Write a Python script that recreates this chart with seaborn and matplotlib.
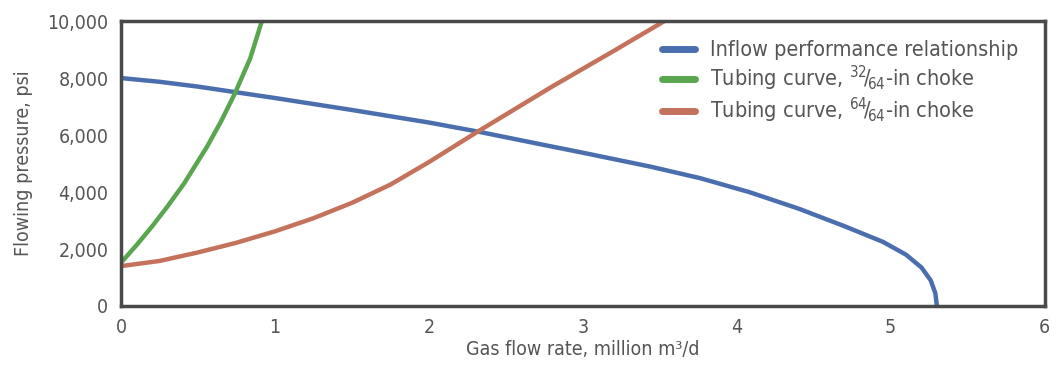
import seaborn as sns
import matplotlib.pyplot as plt
import pandas as pd

# values
ipr_q = [0, 0.25, 0.5, 0.75, 1.0, 1.5, 2.0, 2.32, 2.75, 3.0, 3.44, 3.76, 4.08,
         4.4, 4.7, 4.95, 5.1, 5.2, 5.26, 5.29, 5.3]
ipr_p = [8000, 7870, 7700, 7500, 7300, 6880, 6440, 6120, 5650, 5380, 4890, 4490, 4000,
         3420, 2800, 2250, 1800, 1350, 900, 450, 0]

small_q = [0, 0.1, 0.2, 0.3, 0.41, 0.56, 0.65, 0.74, 0.84, 0.915]
small_p = [1520, 2130, 2780, 3480, 4300, 5600, 6480, 7460, 8700, 10000]

big_q = [0, 0.25, 0.5, 0.75, 1.0, 1.25, 1.5, 1.75, 2.0, 2.32, 2.8, 3.2, 3.53]
big_p = [1400, 1580, 1880, 2220, 2620, 3080, 3620, 4260, 5050, 6130, 7700, 8950, 10000]

labels = ['Inflow performance relationship',
          r'Tubing curve, $^{32}\!/\!_{64}$-in choke',
          r'Tubing curve, $^{64}\!/\!_{64}$-in choke']
colors = ['#4b6fae', '#5aa54f', '#c4725c']

x_ticks = [0, 1, 2, 3, 4, 5, 6]
y_ticks = [0, 2000, 4000, 6000, 8000, 10000]

sns.set_style('white')
plt.rcParams['font.family'] = ['DejaVu Sans']
plt.rcParams['font.stretch'] = 'condensed'
plt.rcParams['mathtext.fontset'] = 'custom'
plt.rcParams['mathtext.rm'] = 'DejaVu Sans:stretch=condensed'
plt.rcParams['mathtext.it'] = 'DejaVu Sans:stretch=condensed'
plt.rcParams['mathtext.bf'] = 'DejaVu Sans:stretch=condensed'

fig = plt.figure(figsize=(10.52, 3.70), dpi=100)
ax = fig.add_axes([0.115, 0.173, 0.878, 0.770])

series = [(ipr_q, ipr_p), (small_q, small_p), (big_q, big_p)]
for (q, p), lab, col in zip(series, labels, colors):
    df = pd.DataFrame({'q': q, 'p': p})
    sns.lineplot(data=df, x='q', y='p', ax=ax, color=col, linewidth=3.2,
                 label=lab, sort=False, estimator=None)

txt = '#555555'
ax.set_xlim(0, 6)
ax.set_ylim(0, 10000)
ax.set_xticks(x_ticks)
ax.set_xticklabels([str(t) for t in x_ticks])
ax.set_yticks(y_ticks)
ax.set_yticklabels(['{:,}'.format(t) for t in y_ticks])
ax.tick_params(axis='both', direction='in', length=6, width=1, color='#999999',
               labelsize=14, labelcolor=txt, pad=9)
for s in ax.spines.values():
    s.set_color('#4a4a4a')
    s.set_linewidth(2.5)

ax.set_xlabel('Gas flow rate, million m³/d', fontsize=14, color=txt, labelpad=2)
ax.set_ylabel('Flowing pressure, psi', fontsize=14, color=txt, labelpad=10)

leg = ax.legend(loc='upper right', bbox_to_anchor=(0.992, 1.0), frameon=False,
                fontsize=15.5, handlelength=1.5, handletextpad=0.7, labelspacing=0.15)
for t in leg.get_texts():
    t.set_color(txt)
for h in leg.get_lines():
    h.set_linewidth(5)

fig.savefig('out.png', dpi=100, facecolor='white')
